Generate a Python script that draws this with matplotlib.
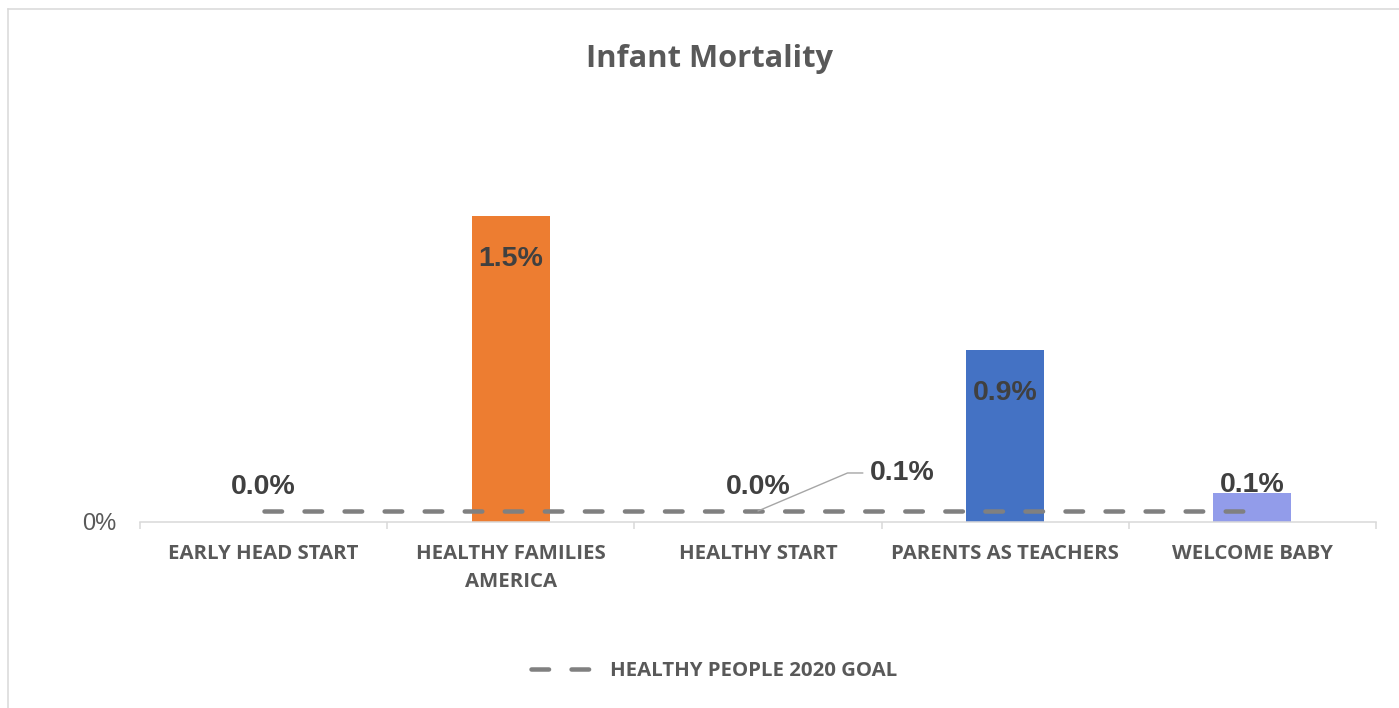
import matplotlib
matplotlib.use('Agg')
import matplotlib.pyplot as plt
from matplotlib.lines import Line2D

# chart data
categories = ['EARLY HEAD START', 'HEALTHY FAMILIES\nAMERICA', 'HEALTHY START',
              'PARENTS AS TEACHERS', 'WELCOME BABY']
values = [0.0, 1.5, 0.0, 0.843, 0.142]          # percent
bar_labels = ['0.0%', '1.5%', '0.0%', '0.9%', '0.1%']
bar_colors = ['#ED7D31', '#ED7D31', '#4472C4', '#4472C4', '#929CEA']
goal = [0.054] * 5                               # Healthy People 2020 goal
goal_label = '0.1%'
series_name = 'HEALTHY PEOPLE 2020 GOAL'

W, H = 1399, 708
fig = plt.figure(figsize=(W / 100, H / 100), dpi=100)

# axes placed in pixel coordinates (left, baseline, right, top)
x0, y0, x1, y1 = 140, 522, 1376, 114
ax = fig.add_axes([x0 / W, 1 - y0 / H, (x1 - x0) / W, (y0 - y1) / H])

xs = list(range(len(categories)))
ax.bar(xs, values, width=0.315, color=bar_colors, zorder=2)

line, = ax.plot(xs, goal, color='#808080', lw=3.24, dashes=(3.9, 5.0),
                dash_capstyle='round', zorder=3)

ax.set_xlim(-0.5, len(categories) - 0.5)
ax.set_ylim(0, 2.0)

label_font = dict(family='Liberation Sans', weight='bold', size=20.5, color='#404040')
for x, v, t in zip(xs, values, bar_labels):
    if v > 0.5:
        ax.annotate(t, (x, v), xytext=(0, -30), textcoords='offset pixels',
                    ha='center', va='top', zorder=4, **label_font)
    elif v < goal[x]:
        ax.annotate(t, (x, v), xytext=(0, 28), textcoords='offset pixels',
                    ha='center', va='baseline', zorder=4, **label_font)
    else:
        ax.annotate(t, (x, v), xytext=(0, 1), textcoords='offset pixels',
                    ha='center', va='baseline', zorder=4, **label_font)

# goal label with leader line
ax.annotate(goal_label, (2, goal[2]), xytext=(112, 38), textcoords='offset pixels',
            ha='left', va='center', zorder=4,
            arrowprops=dict(arrowstyle='-', color='#A6A6A6', lw=1.0,
                            shrinkA=0, shrinkB=0, relpos=(0, 0.5),
                            connectionstyle='angle,angleA=0,angleB=23,rad=0'),
            bbox=dict(boxstyle='square,pad=0.25', fc='none', ec='none'),
            **label_font)

# axes styling
for s in ['top', 'left', 'right']:
    ax.spines[s].set_visible(False)
ax.spines['bottom'].set_color('#D9D9D9')
ax.spines['bottom'].set_linewidth(1.1)

ax.set_yticks([0])
ax.set_yticklabels(['0%'], family='Liberation Sans', size=17, color='#595959')
ax.tick_params(axis='y', length=0, pad=17)

ax.set_xticks(xs)
ax.set_xticklabels(categories, family='Open Sans', weight='bold', size=14.7,
                   color='#595959', linespacing=1.5)
ax.tick_params(axis='x', which='major', length=0, pad=16)
ax.set_xticks([x - 0.5 for x in range(len(categories) + 1)], minor=True)
ax.tick_params(axis='x', which='minor', length=5, width=1.1, color='#D9D9D9')

# title
fig.text(710 / W, 1 - 67 / H, 'Infant Mortality', ha='center', va='baseline',
         family='Open Sans', weight='bold', size=22.2, color='#595959')

# legend
fig.legend([line], [series_name], loc='center', bbox_to_anchor=(714 / W, 1 - 671 / H),
           frameon=False, handlelength=3.1, handletextpad=0.75,
           prop=dict(family='Open Sans', weight='bold', size=14.7),
           labelcolor='#595959')

# outer chart border (top and left only visible)
fig.add_artist(Line2D([8 / W, 8 / W], [0, 1 - 9 / H], color='#D9D9D9', lw=1.1))
fig.add_artist(Line2D([8 / W, 1], [1 - 9 / H, 1 - 9 / H], color='#D9D9D9', lw=1.1))

fig.savefig('out.png', dpi=100, facecolor='white')
